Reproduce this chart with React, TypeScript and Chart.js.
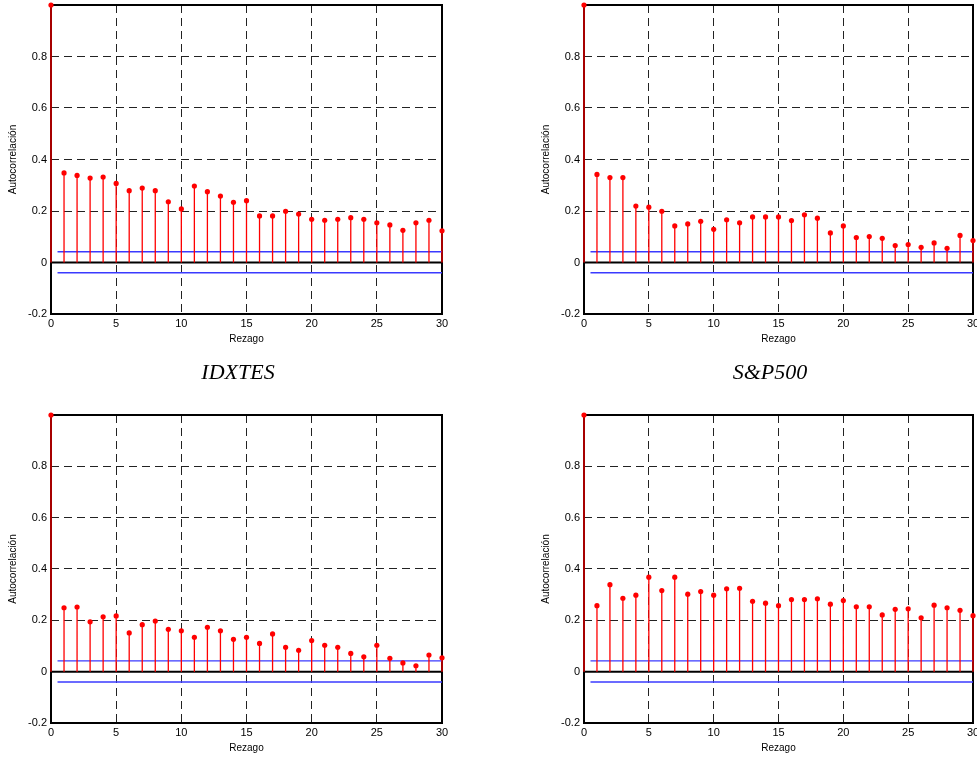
import React, { useEffect, useRef } from "react";
import { Chart, registerables } from "chart.js";

Chart.register(...registerables);

// ---- data ----
const lags = [0, 1, 2, 3, 4, 5, 6, 7, 8, 9, 10, 11, 12, 13, 14, 15, 16, 17, 18, 19, 20, 21, 22, 23, 24, 25, 26, 27, 28, 29, 30];

const acfTopLeft = [1.0, 0.348, 0.338, 0.328, 0.332, 0.307, 0.279, 0.289, 0.279, 0.236, 0.208, 0.297, 0.275, 0.258, 0.234, 0.240, 0.181, 0.181, 0.199, 0.188, 0.168, 0.164, 0.168, 0.174, 0.168, 0.154, 0.146, 0.125, 0.154, 0.164, 0.123];
const acfTopRight = [1.0, 0.342, 0.330, 0.330, 0.219, 0.215, 0.199, 0.142, 0.150, 0.160, 0.129, 0.166, 0.154, 0.177, 0.177, 0.177, 0.163, 0.185, 0.172, 0.115, 0.142, 0.097, 0.101, 0.094, 0.066, 0.070, 0.059, 0.076, 0.055, 0.105, 0.085];
const acfBottomLeft = [1.0, 0.249, 0.252, 0.194, 0.214, 0.217, 0.151, 0.183, 0.197, 0.165, 0.159, 0.134, 0.173, 0.159, 0.126, 0.134, 0.110, 0.147, 0.095, 0.083, 0.121, 0.103, 0.095, 0.071, 0.058, 0.103, 0.052, 0.034, 0.023, 0.065, 0.054];
const acfBottomRight = [1.0, 0.257, 0.339, 0.286, 0.298, 0.368, 0.316, 0.368, 0.302, 0.312, 0.298, 0.323, 0.325, 0.274, 0.267, 0.257, 0.281, 0.281, 0.284, 0.263, 0.277, 0.253, 0.253, 0.221, 0.243, 0.245, 0.210, 0.259, 0.249, 0.239, 0.218];

const upperBound = 0.042;
const lowerBound = -0.04;
const boundStartLag = 0.5;
const boundEndLag = 30;

const xTickValues = [0, 5, 10, 15, 20, 25, 30];
const yTickValues = [-0.2, 0, 0.2, 0.4, 0.6, 0.8];

const xAxisTitle = "Rezago";
const yAxisTitle = "Autocorrelación";
const panelTitles = ["IDXTES", "S&P500"];

const FONT = "'Liberation Sans', Arial, Helvetica, sans-serif";

type Geo = {
  left: number; top: number; width: number; height: number;
  padTop: number; padRight: number; yAxisW: number; xAxisH: number; yTitlePad: number;
};

const framePlugin = {
  id: "frameBox",
  beforeDatasetsDraw(chart: any) {
    const { ctx, chartArea } = chart;
    ctx.save();
    ctx.strokeStyle = "#000";
    ctx.lineWidth = 2;
    ctx.strokeRect(chartArea.left, chartArea.top, chartArea.right - chartArea.left, chartArea.bottom - chartArea.top);
    ctx.restore();
  },
};

function AcfPlot({ values, geo }: { values: number[]; geo: Geo }) {
  const ref = useRef<HTMLCanvasElement | null>(null);
  useEffect(() => {
    const stems: any[] = [];
    lags.forEach((lag, i) => {
      stems.push({ x: lag, y: 0 }, { x: lag, y: values[i] }, { x: lag, y: null });
    });
    const dots = lags.map((lag, i) => ({ x: lag, y: values[i] }));
    const chart = new Chart(ref.current as HTMLCanvasElement, {
      type: "line",
      data: {
        datasets: [
          { data: dots, showLine: false, pointRadius: 2.6, pointBackgroundColor: "#ff0000", pointBorderWidth: 0, order: 0, clip: false } as any,
          { data: stems, borderColor: "#ff0000", borderWidth: 1.3, pointRadius: 0, spanGaps: false, order: 1, clip: false } as any,
          { data: [{ x: 0, y: 0 }, { x: 30, y: 0 }], borderColor: "#000", borderWidth: 2, pointRadius: 0, order: 2 } as any,
          { data: [{ x: boundStartLag, y: upperBound }, { x: boundEndLag, y: upperBound }], borderColor: "#3a3aff", borderWidth: 1.4, pointRadius: 0, order: 3 } as any,
          { data: [{ x: boundStartLag, y: lowerBound }, { x: boundEndLag, y: lowerBound }], borderColor: "#3a3aff", borderWidth: 1.4, pointRadius: 0, order: 3 } as any,
        ],
      },
      options: {
        responsive: false,
        maintainAspectRatio: false,
        animation: false,
        events: [],
        layout: { padding: { top: geo.padTop, right: geo.padRight, left: 0, bottom: 0 } },
        plugins: { legend: { display: false }, tooltip: { enabled: false } },
        scales: {
          x: {
            type: "linear",
            min: 0,
            max: 30,
            afterBuildTicks: (s: any) => { s.ticks = xTickValues.map((v) => ({ value: v })); },
            afterFit: (s: any) => { s.height = geo.xAxisH; s.paddingLeft = 0; s.paddingRight = 0; },
            ticks: { autoSkip: false, maxRotation: 0, padding: 3, color: "#000", font: { size: 11, family: FONT }, callback: (v: any) => String(v) },
            grid: {
              drawTicks: false,
              lineWidth: 1,
              color: (c: any) => (c.tick && (c.tick.value === 0 || c.tick.value === 30) ? "rgba(0,0,0,0)" : "#222"),
            },
            border: { display: false, dash: [8, 5] },
            title: { display: true, text: xAxisTitle, color: "#000", font: { size: 10, family: FONT }, padding: { top: 0, bottom: 3 } },
          },
          y: {
            type: "linear",
            min: -0.2,
            max: 1,
            afterBuildTicks: (s: any) => { s.ticks = yTickValues.map((v) => ({ value: v })); },
            afterFit: (s: any) => { s.width = geo.yAxisW; s.paddingTop = 0; s.paddingBottom = 0; },
            ticks: { autoSkip: false, padding: 4, color: "#000", font: { size: 11, family: FONT }, callback: (v: any) => String(v) },
            grid: {
              drawTicks: false,
              lineWidth: 1,
              color: (c: any) => (c.tick && (c.tick.value === -0.2 || c.tick.value === 0) ? "rgba(0,0,0,0)" : "#222"),
            },
            border: { display: false, dash: [8, 5] },
            title: { display: true, text: yAxisTitle, color: "#000", font: { size: 10, family: FONT }, padding: { top: geo.yTitlePad, bottom: 0 } },
          },
        },
      } as any,
      plugins: [framePlugin],
    });
    return () => chart.destroy();
  }, [values, geo]);
  return (
    <canvas
      ref={ref}
      width={geo.width}
      height={geo.height}
      style={{ position: "absolute", left: geo.left, top: geo.top, width: geo.width, height: geo.height }}
    />
  );
}

const geoTL: Geo = { left: 0, top: 0, width: 470, height: 348, padTop: 5, padRight: 28, yAxisW: 51, xAxisH: 34, yTitlePad: 7.5 };
const geoTR: Geo = { left: 520, top: 0, width: 457, height: 348, padTop: 5, padRight: 2, yAxisW: 64, xAxisH: 34, yTitlePad: 20.7 };
const geoBL: Geo = { left: 0, top: 380, width: 470, height: 377, padTop: 35, padRight: 28, yAxisW: 51, xAxisH: 34, yTitlePad: 7.5 };
const geoBR: Geo = { left: 520, top: 380, width: 457, height: 377, padTop: 35, padRight: 2, yAxisW: 64, xAxisH: 34, yTitlePad: 20.7 };

const titleStyle: React.CSSProperties = {
  position: "absolute",
  top: 361,
  width: 200,
  textAlign: "center",
  fontFamily: "'Liberation Serif', 'Times New Roman', serif",
  fontStyle: "italic",
  fontSize: 22,
  lineHeight: "22px",
  color: "#000",
  whiteSpace: "nowrap",
};

export default function App() {
  return (
    <div style={{ position: "absolute", left: 0, top: 0, width: 977, height: 757, overflow: "hidden", background: "#fff" }}>
      <AcfPlot values={acfTopLeft} geo={geoTL} />
      <AcfPlot values={acfTopRight} geo={geoTR} />
      <AcfPlot values={acfBottomLeft} geo={geoBL} />
      <AcfPlot values={acfBottomRight} geo={geoBR} />
      <div style={{ ...titleStyle, left: 238 - 100 }}>{panelTitles[0]}</div>
      <div style={{ ...titleStyle, left: 770 - 100 }}>{panelTitles[1]}</div>
    </div>
  );
}
